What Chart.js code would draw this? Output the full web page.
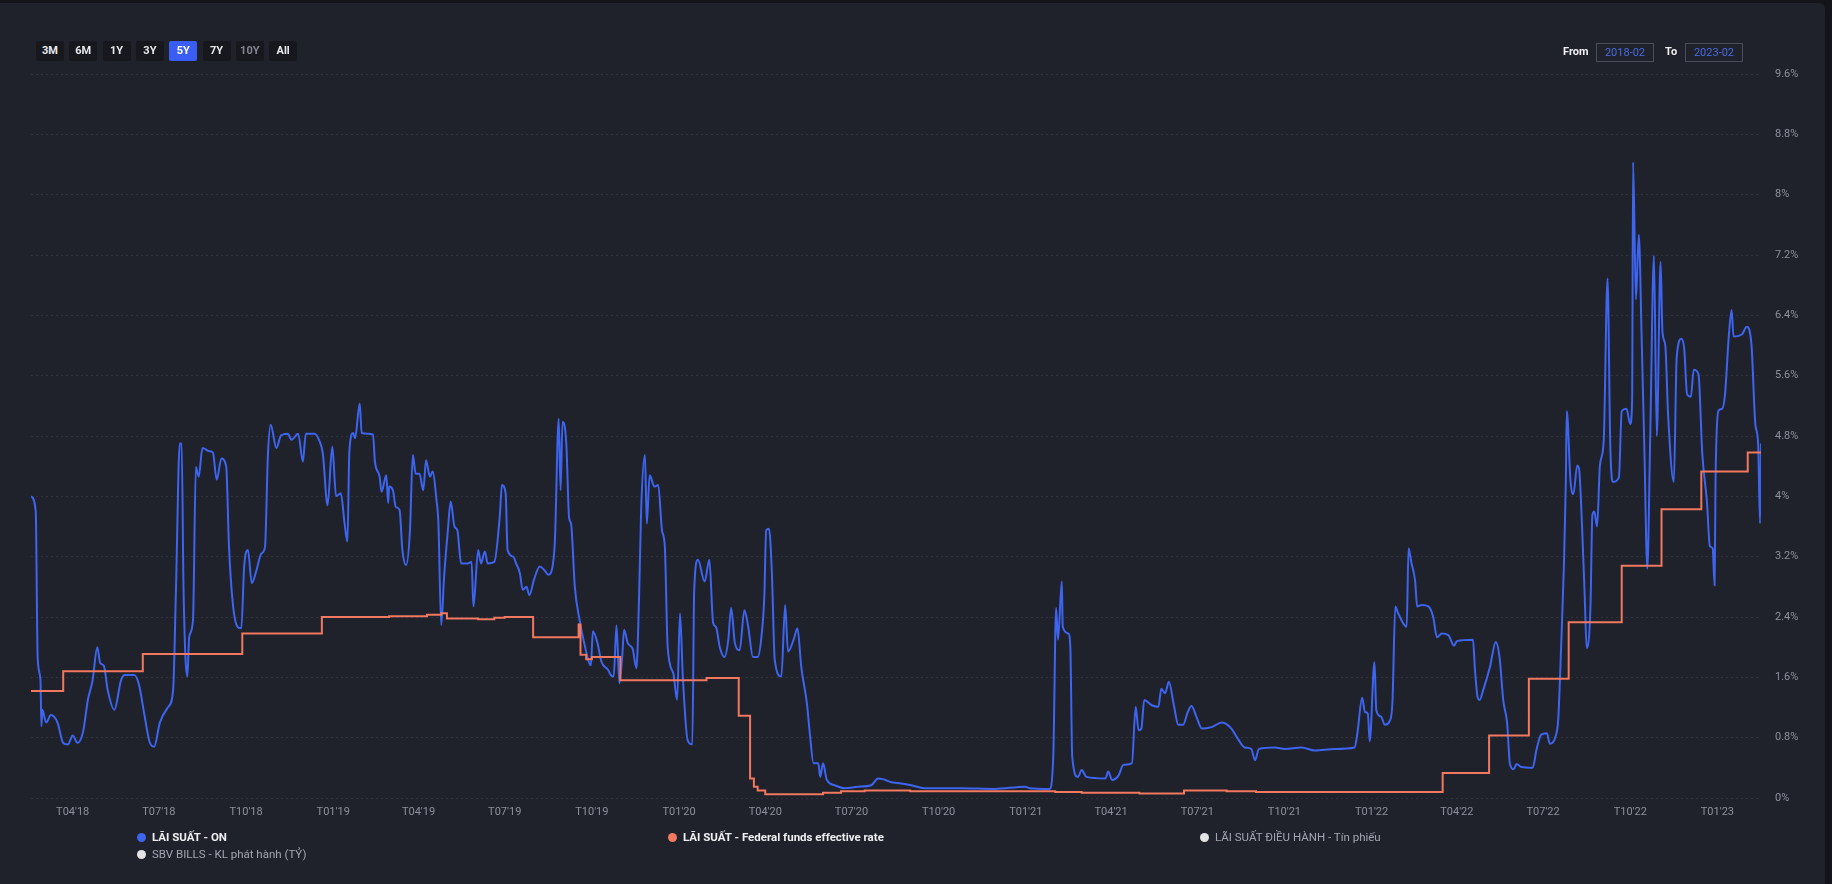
<!DOCTYPE html>
<html>
<head>
<meta charset="utf-8">
<script src="https://cdn.jsdelivr.net/npm/chart.js@4.4.0/dist/chart.umd.min.js"></script>
<style>
html,body{margin:0;padding:0;width:1832px;height:884px;overflow:hidden;background:#14151a;font-family:Roboto,"Noto Sans",sans-serif;}
#card{position:absolute;left:0;top:3px;width:1825px;height:881px;background:#1f212b;border-radius:0 6px 0 0;}
#chart{position:absolute;left:0;top:0;width:1832px;height:884px;}
.btn{position:absolute;top:41px;width:28px;height:20px;background:#17181d;color:#e8e9ec;font-size:11px;font-weight:700;line-height:20px;text-align:center;border-radius:2px;}
.btn.on{background:#3a5ef5;color:#fff;}
.btn.off{color:#858893;}
.lbl{position:absolute;color:#f0f0f2;font-size:11px;font-weight:700;line-height:14px;}
.box{position:absolute;top:43px;width:56px;height:17px;border:1px solid #4a4d5a;color:#4a6be0;font-size:11px;line-height:17px;text-align:center;}
.dot{position:absolute;width:9px;height:9px;border-radius:50%;}
.lg{position:absolute;font-size:11.5px;line-height:14px;white-space:nowrap;}
.lg.b{font-weight:700;color:#eeeff2;}
.lg.g{color:#a3a6b0;}
</style>
</head>
<body>
<div id="card"></div>
<canvas id="chart" width="1832" height="884"></canvas>
<div id="ui"></div>
<script>
// ---------- DATA ----------
const rangeButtons = ['3M','6M','1Y','3Y','5Y','7Y','10Y','All'];
const activeButton = '5Y';
const disabledButton = '10Y';
const fromValue = '2018-02';
const toValue = '2023-02';

const seriesNames = [
  'LÃI SUẤT - ON',
  'LÃI SUẤT - Federal funds effective rate',
  'LÃI SUẤT ĐIỀU HÀNH - Tín phiếu',
  'SBV BILLS - KL phát hành (TỶ)'
];

const yTickValues = [0, 0.8, 1.6, 2.4, 3.2, 4, 4.8, 5.6, 6.4, 7.2, 8, 8.8, 9.6];
const yTickLabels = ['0%','0.8%','1.6%','2.4%','3.2%','4%','4.8%','5.6%','6.4%','7.2%','8%','8.8%','9.6%'];

const xTickDates = ['2018-04-01','2018-07-01','2018-10-01','2019-01-01','2019-04-01','2019-07-01','2019-10-01',
  '2020-01-01','2020-04-01','2020-07-01','2020-10-01','2021-01-01','2021-04-01','2021-07-01','2021-10-01',
  '2022-01-01','2022-04-01','2022-07-01','2022-10-01','2023-01-01'];
const xTickLabels = ["T04'18","T07'18","T10'18","T01'19","T04'19","T07'19","T10'19",
  "T01'20","T04'20","T07'20","T10'20","T01'21","T04'21","T07'21","T10'21",
  "T01'22","T04'22","T07'22","T10'22","T01'23"];

// Overnight interbank rate (%)
const onDates = [
'2018-02-16','2018-02-21','2018-02-23','2018-02-26','2018-02-27','2018-02-28','2018-03-04','2018-03-09','2018-03-16','2018-03-22',
'2018-03-27','2018-04-01','2018-04-06','2018-04-12','2018-04-17','2018-04-22','2018-04-27','2018-04-30','2018-05-04','2018-05-08',
'2018-05-15','2018-05-22','2018-05-26','2018-06-05','2018-06-10','2018-06-16','2018-06-21','2018-06-26','2018-07-02','2018-07-11',
'2018-07-16','2018-07-19','2018-07-23','2018-07-25','2018-07-27','2018-07-31','2018-08-02','2018-08-06','2018-08-09','2018-08-12',
'2018-08-16','2018-08-23','2018-08-27','2018-08-31','2018-09-05','2018-09-10','2018-09-13','2018-09-17','2018-09-22','2018-09-26',
'2018-09-29','2018-10-03','2018-10-07','2018-10-12','2018-10-17','2018-10-21','2018-10-24','2018-10-27','2018-11-02','2018-11-07',
'2018-11-14','2018-11-18','2018-11-25','2018-11-30','2018-12-03','2018-12-12','2018-12-17','2018-12-21','2018-12-26','2018-12-31',
'2019-01-04','2019-01-09','2019-01-13','2019-01-16','2019-01-18','2019-01-22','2019-01-24','2019-01-29','2019-01-31','2019-02-12',
'2019-02-14','2019-02-19','2019-02-21','2019-02-26','2019-02-28','2019-03-01','2019-03-05','2019-03-08','2019-03-12','2019-03-15',
'2019-03-19','2019-03-23','2019-03-26','2019-03-29','2019-04-02','2019-04-06','2019-04-09','2019-04-13','2019-04-16','2019-04-20',
'2019-04-22','2019-04-25','2019-04-28','2019-05-02','2019-05-05','2019-05-09','2019-05-12','2019-05-16','2019-05-23','2019-05-27',
'2019-05-29','2019-06-03','2019-06-06','2019-06-10','2019-06-13','2019-06-20','2019-06-26','2019-06-28','2019-07-02','2019-07-04',
'2019-07-10','2019-07-13','2019-07-17','2019-07-20','2019-07-24','2019-07-27','2019-08-01','2019-08-07','2019-08-12','2019-08-16',
'2019-08-21','2019-08-23','2019-08-27','2019-08-29','2019-08-31','2019-09-04','2019-09-07','2019-09-09','2019-09-13','2019-09-18',
'2019-09-23','2019-09-30','2019-10-02','2019-10-07','2019-10-11','2019-10-18','2019-10-21','2019-10-24','2019-10-27','2019-10-30',
'2019-11-02','2019-11-04','2019-11-08','2019-11-13','2019-11-17','2019-11-20','2019-11-22','2019-11-26','2019-11-28','2019-12-01',
'2019-12-06','2019-12-10','2019-12-14','2019-12-17','2019-12-20','2019-12-26','2019-12-30','2020-01-02','2020-01-05','2020-01-10',
'2020-01-15','2020-01-17','2020-01-21','2020-01-28','2020-02-02','2020-02-06','2020-02-09','2020-02-13','2020-02-18','2020-02-22',
'2020-02-25','2020-02-29','2020-03-05','2020-03-10','2020-03-14','2020-03-19','2020-03-24','2020-03-28','2020-03-31','2020-04-02',
'2020-04-05','2020-04-08','2020-04-11','2020-04-18','2020-04-22','2020-04-25','2020-05-01','2020-05-05','2020-05-09','2020-05-15',
'2020-05-18','2020-05-22','2020-05-27','2020-05-29','2020-06-01','2020-06-05','2020-06-13','2020-06-24','2020-07-08','2020-07-22',
'2020-07-29','2020-08-03','2020-08-12','2020-08-19','2020-09-02','2020-09-16','2020-10-25','2020-11-29','2020-12-31','2021-01-05',
'2021-01-26','2021-01-30','2021-02-02','2021-02-04','2021-02-08','2021-02-09','2021-02-15','2021-02-17','2021-02-19','2021-02-25',
'2021-03-01','2021-03-06','2021-03-26','2021-03-29','2021-04-02','2021-04-09','2021-04-14','2021-04-23','2021-04-27','2021-04-30',
'2021-05-03','2021-05-06','2021-05-14','2021-05-21','2021-05-24','2021-05-28','2021-06-01','2021-06-06','2021-06-11','2021-06-16',
'2021-06-21','2021-06-25','2021-06-30','2021-07-06','2021-07-16','2021-07-27','2021-08-06','2021-08-13','2021-08-20','2021-08-27',
'2021-08-31','2021-09-04','2021-09-21','2021-10-01','2021-10-19','2021-11-02','2021-11-23','2021-12-14','2021-12-17','2021-12-22',
'2021-12-25','2021-12-28','2021-12-30','2022-01-04','2022-01-06','2022-01-11','2022-01-15','2022-01-20','2022-01-23','2022-01-26',
'2022-01-29','2022-02-07','2022-02-09','2022-02-12','2022-02-16','2022-02-18','2022-02-23','2022-03-02','2022-03-07','2022-03-11',
'2022-03-16','2022-03-23','2022-03-29','2022-04-01','2022-04-18','2022-04-20','2022-04-23','2022-04-25','2022-04-29','2022-05-06',
'2022-05-12','2022-05-16','2022-05-20','2022-05-24','2022-05-27','2022-05-31','2022-06-03','2022-06-08','2022-06-20','2022-06-24',
'2022-06-29','2022-07-05','2022-07-08','2022-07-14','2022-07-17','2022-07-20','2022-07-23','2022-07-25','2022-07-26','2022-07-30',
'2022-08-02','2022-08-06','2022-08-08','2022-08-11','2022-08-14','2022-08-16','2022-08-20','2022-08-22','2022-08-24','2022-08-27',
'2022-08-30','2022-09-03','2022-09-07','2022-09-10','2022-09-13','2022-09-19','2022-09-22','2022-09-27','2022-10-01','2022-10-03',
'2022-10-04','2022-10-07','2022-10-10','2022-10-13','2022-10-16','2022-10-19','2022-10-22','2022-10-26','2022-10-29','2022-11-02',
'2022-11-04','2022-11-07','2022-11-10','2022-11-16','2022-11-19','2022-11-24','2022-11-27','2022-11-30','2022-12-04','2022-12-07',
'2022-12-12','2022-12-16','2022-12-21','2022-12-24','2022-12-27','2022-12-29','2022-12-30','2023-01-02','2023-01-06','2023-01-09',
'2023-01-13','2023-01-16','2023-01-18','2023-01-27','2023-02-01','2023-02-06','2023-02-10','2023-02-13','2023-02-15','2023-02-16'
];
const onRates = [
4.00,3.80,1.87,1.56,0.95,1.17,1.00,1.10,1.00,0.73,
0.71,0.83,0.73,0.88,1.30,1.56,2.00,1.79,1.75,1.43,
1.17,1.56,1.63,1.63,1.50,1.08,0.75,0.68,1.00,1.21,
1.43,2.76,4.70,4.70,2.76,1.61,2.14,2.36,4.39,4.26,
4.64,4.60,4.58,4.22,4.50,4.40,3.33,2.58,2.27,2.25,
3.07,3.29,2.85,3.02,3.24,3.33,4.53,4.95,4.64,4.81,
4.83,4.75,4.83,4.46,4.83,4.83,4.75,4.57,3.88,4.66,
4.00,4.04,3.64,3.40,4.59,4.84,4.77,5.23,4.84,4.82,
4.46,4.26,4.06,4.28,3.91,4.13,4.08,3.86,3.82,3.29,
3.09,3.55,4.55,4.30,4.30,4.08,4.48,4.26,4.33,3.95,
3.65,2.29,2.93,3.55,3.93,3.60,3.55,3.11,3.11,3.13,
2.54,3.29,3.11,3.27,3.11,3.13,3.77,4.15,4.04,3.29,
3.20,3.11,2.98,2.76,2.80,2.69,2.90,3.07,3.02,2.96,
3.11,3.42,5.03,4.08,4.99,4.70,3.71,3.64,2.80,2.36,
2.05,1.76,2.21,2.05,1.81,1.70,1.63,1.61,2.29,1.52,
1.87,2.23,2.05,1.98,1.72,2.76,3.82,4.55,3.64,4.28,
4.13,4.15,3.55,3.33,2.00,1.65,1.30,2.45,1.61,0.77,
0.71,2.76,3.16,2.87,3.16,2.32,2.27,2.00,1.87,2.10,
2.52,2.05,1.96,2.49,2.27,1.87,1.87,2.14,2.67,3.55,
3.57,2.98,1.83,1.61,2.56,1.94,2.10,2.25,1.74,1.25,
0.86,0.46,0.46,0.28,0.46,0.24,0.17,0.13,0.15,0.17,
0.26,0.25,0.21,0.20,0.17,0.13,0.13,0.12,0.15,0.13,
0.12,0.55,2.52,2.10,2.87,2.27,2.18,2.00,0.55,0.28,
0.37,0.28,0.26,0.35,0.24,0.30,0.44,0.46,1.21,0.90,
0.92,1.30,1.23,1.21,1.45,1.39,1.54,1.25,0.97,0.97,
1.14,1.22,1.08,0.92,0.94,1.00,0.92,0.78,0.67,0.65,
0.50,0.65,0.67,0.65,0.67,0.63,0.65,0.67,0.86,1.33,
1.14,1.12,0.75,1.80,1.16,1.08,0.97,1.02,1.27,2.54,
2.45,2.27,3.31,3.12,2.87,2.54,2.56,2.54,2.40,2.13,
2.18,2.16,2.02,2.08,2.10,1.72,1.33,1.30,1.44,1.74,
2.07,1.87,1.29,1.00,0.45,0.38,0.45,0.41,0.40,0.64,
0.84,0.86,0.72,0.81,1.05,1.99,3.09,4.19,5.13,4.19,
4.03,4.41,4.36,3.64,2.65,1.99,2.54,3.75,3.80,3.60,
4.41,4.74,6.89,4.63,4.19,4.25,5.13,5.16,4.96,5.29,
8.43,6.61,7.47,6.12,4.57,3.04,4.74,7.19,4.80,7.11,
6.18,6.00,5.07,4.19,5.84,6.09,5.95,5.35,5.32,5.68,
5.62,4.57,3.92,3.34,3.31,2.82,4.19,5.13,5.16,5.35,
6.12,6.47,6.12,6.15,6.25,6.00,4.96,4.69,3.64,4.70
];

// Federal funds effective rate (%), value from each change date
const fedDates = [
'2018-02-16','2018-03-22','2018-06-14','2018-09-27','2018-12-20','2019-03-01','2019-04-10','2019-04-25','2019-05-01','2019-06-03',
'2019-06-20','2019-07-01','2019-07-31','2019-09-17','2019-09-19','2019-09-25','2019-10-01','2019-10-31','2020-01-30','2020-03-04',
'2020-03-16','2020-03-20','2020-03-24','2020-04-01','2020-06-01','2020-06-20','2020-07-15','2020-09-01','2021-02-01','2021-03-01',
'2021-05-01','2021-06-17','2021-08-01','2021-09-01','2022-03-17','2022-05-05','2022-06-16','2022-07-28','2022-09-22','2022-11-03',
'2022-12-15','2023-02-02','2023-02-16'
];
const fedRates = [
1.42,1.68,1.91,2.18,2.40,2.41,2.43,2.45,2.38,2.37,
2.39,2.40,2.13,2.30,1.90,1.84,1.87,1.56,1.59,1.09,
0.26,0.15,0.10,0.05,0.07,0.09,0.10,0.09,0.08,0.07,
0.06,0.10,0.09,0.08,0.33,0.83,1.58,2.33,3.08,3.83,
4.33,4.58,4.58
];

// ---------- UI ----------
const ui = document.getElementById('ui');
rangeButtons.forEach((b, i) => {
  const d = document.createElement('div');
  d.className = 'btn' + (b === activeButton ? ' on' : '') + (b === disabledButton ? ' off' : '');
  d.style.left = (36 + i * 33.3) + 'px';
  d.textContent = b;
  ui.appendChild(d);
});
function addEl(cls, text, style) {
  const d = document.createElement('div');
  d.className = cls; d.textContent = text;
  Object.assign(d.style, style); ui.appendChild(d); return d;
}
addEl('lbl', 'From', {left: '1563px', top: '45px'});
addEl('box', fromValue, {left: '1596px'});
addEl('lbl', 'To', {left: '1665px', top: '45px'});
addEl('box', toValue, {left: '1685px'});

const legendItems = [
  {name: seriesNames[0], color: '#3d65f0', cx: 141, cy: 837, cls: 'b'},
  {name: seriesNames[1], color: '#f2785f', cx: 672, cy: 837, cls: 'b'},
  {name: seriesNames[2], color: '#e4e4e6', cx: 1204, cy: 837, cls: 'g'},
  {name: seriesNames[3], color: '#e4e4e6', cx: 141, cy: 854, cls: 'g'}
];
legendItems.forEach(it => {
  addEl('dot', '', {left: (it.cx - 4.5) + 'px', top: (it.cy - 4.5) + 'px', background: it.color});
  addEl('lg ' + it.cls, it.name, {left: (it.cx + 11) + 'px', top: (it.cy - 7) + 'px'});
});

// ---------- CHART ----------
function ms(s) { const p = s.split('-').map(Number); return Date.UTC(p[0], p[1] - 1, p[2] || 1); }
const onPoints = onDates.map((d, i) => ({x: ms(d), y: onRates[i]}));
const fedPoints = fedDates.map((d, i) => ({x: ms(d), y: fedRates[i]}));
const xMin = ms(onDates[0]);
const xMax = ms(onDates[onDates.length - 1]);

new Chart(document.getElementById('chart'), {
  type: 'line',
  data: {
    datasets: [
      {label: seriesNames[0], data: onPoints, borderColor: '#3d65f0', borderWidth: 2, pointRadius: 0,
       cubicInterpolationMode: 'monotone', order: 2},
      {label: seriesNames[1], data: fedPoints, borderColor: '#f2785f', borderWidth: 2, pointRadius: 0,
       stepped: true, order: 1}
    ]
  },
  options: {
    responsive: false,
    animation: false,
    layout: {padding: {left: 31, top: 74, right: 0, bottom: 0}},
    plugins: {legend: {display: false}, tooltip: {enabled: false}},
    scales: {
      x: {
        type: 'linear', min: xMin, max: xMax,
        grid: {display: false, drawTicks: false},
        border: {display: false},
        afterBuildTicks: s => { s.ticks = xTickDates.map(d => ({value: ms(d)})); },
        afterFit: s => { s.height = 86; },
        ticks: {autoSkip: false, maxRotation: 0, padding: 8, color: '#8e919b',
          font: {family: 'Roboto', size: 11},
          callback: (v, i) => xTickLabels[i]}
      },
      y: {
        position: 'right', min: 0, max: 9.6,
        grid: {color: 'rgba(255,255,255,0.085)', lineWidth: 1, drawTicks: false},
        border: {display: false, dash: [2, 3]},
        afterBuildTicks: s => { s.ticks = yTickValues.map(v => ({value: v})); },
        afterFit: s => { s.width = 71; },
        ticks: {padding: 14, color: '#8e919b', font: {family: 'Roboto', size: 11},
          callback: (v, i) => yTickLabels[i]}
      }
    }
  }
});
</script>
</body>
</html>
